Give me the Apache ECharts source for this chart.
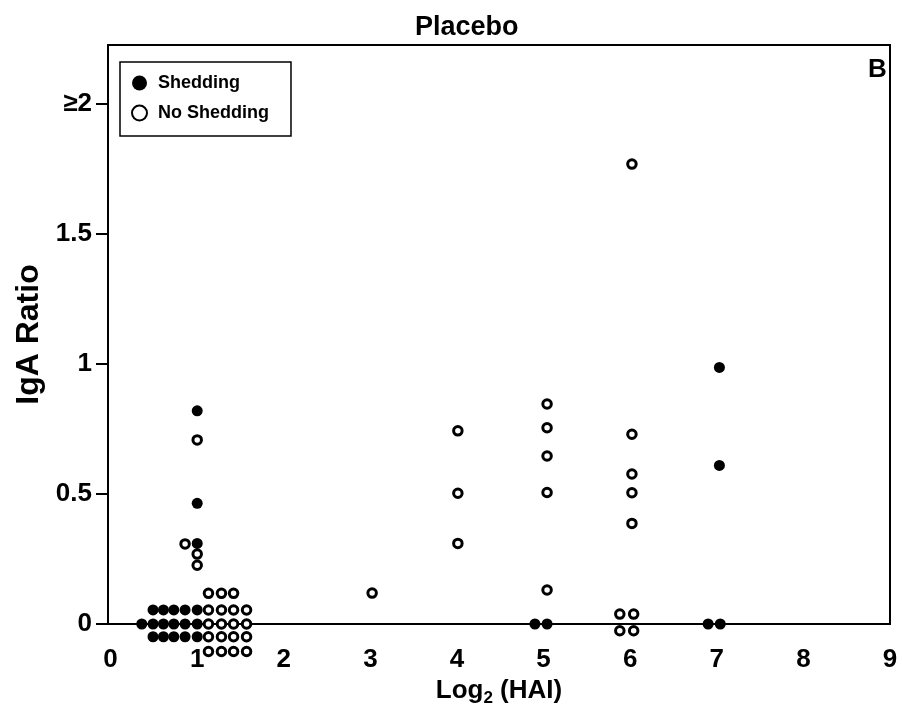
<!DOCTYPE html>
<html><head><meta charset="utf-8">
<script src="https://cdn.jsdelivr.net/npm/echarts@6/dist/echarts.min.js"></script>
<style>html,body{margin:0;padding:0;background:#fff}#c{width:902px;height:718px}</style>
</head><body><div id="c"></div>
<script>
const chartTitle = 'Placebo';
const panelLabel = 'B';
const seriesNames = ['Shedding', 'No Shedding'];
const xAxisName = 'Log2 (HAI)';
const yAxisName = 'IgA Ratio';
const xTicks = [0, 1, 2, 3, 4, 5, 6, 7, 8, 9];
const yTicks = [0, 0.5, 1, 1.5, 2];
const yTickLabels = ['0', '0.5', '1', '1.5', '≥2'];

// Shedding (filled circles) [log2 HAI, IgA ratio] (y=0 points are jittered in the original)
const sheddingPoints = [
  [1.0, 0.82], [1.0, 0.464], [1.0, 0.31],
  [0.49, 0.054], [0.61, 0.054], [0.73, 0.054], [0.86, 0.054], [1.0, 0.054],
  [0.36, 0], [0.49, 0], [0.61, 0], [0.73, 0], [0.86, 0], [1.0, 0],
  [0.49, -0.049], [0.61, -0.049], [0.73, -0.049], [0.86, -0.049], [1.0, -0.049],
  [4.9, 0], [5.04, 0],
  [6.9, 0], [7.04, 0], [7.03, 0.987], [7.03, 0.61]
];

// No Shedding (open circles)
const noSheddingPoints = [
  [1.0, 0.708], [0.86, 0.308], [1.0, 0.269], [1.0, 0.226],
  [1.13, 0.118], [1.28, 0.118], [1.42, 0.118],
  [1.13, 0.054], [1.28, 0.054], [1.42, 0.054], [1.57, 0.054],
  [1.13, 0], [1.28, 0], [1.42, 0], [1.57, 0],
  [1.13, -0.049], [1.28, -0.049], [1.42, -0.049], [1.57, -0.049],
  [1.13, -0.106], [1.28, -0.106], [1.42, -0.106], [1.57, -0.106],
  [3.02, 0.119],
  [4.01, 0.743], [4.01, 0.503], [4.01, 0.31],
  [5.04, 0.846], [5.04, 0.755], [5.04, 0.646], [5.04, 0.506], [5.04, 0.131],
  [6.02, 1.769], [6.02, 0.73], [6.02, 0.577], [6.02, 0.505], [6.02, 0.387],
  [5.88, 0.038], [6.04, 0.038], [5.88, -0.026], [6.04, -0.026]
];

const FONT = '"Liberation Sans", Arial, sans-serif';
const chart = echarts.init(document.getElementById('c'), null, {renderer: 'canvas'});
chart.setOption({
  backgroundColor: '#fff',
  animation: false,
  title: [
    {text: chartTitle, left: 410, top: 9,
     textStyle: {fontFamily: FONT, fontSize: 27, fontWeight: 'bold', color: '#000'}},
    {text: panelLabel, left: 863, top: 52,
     textStyle: {fontFamily: FONT, fontSize: 26, fontWeight: 'bold', color: '#000'}}
  ],
  legend: {
    orient: 'vertical', left: 120, top: 62,
    borderColor: '#000', borderWidth: 1.5,
    padding: [12, 22, 14, 11],
    itemWidth: 15, itemHeight: 15, itemGap: 12,
    textStyle: {fontFamily: FONT, fontSize: 18, fontWeight: 'bold', color: '#000', padding: [0, 0, 0, 6]},
    data: [
      {name: seriesNames[0], icon: 'circle', itemStyle: {color: '#000', borderWidth: 0}},
      {name: seriesNames[1], icon: 'circle', itemStyle: {color: '#fff', borderColor: '#000', borderWidth: 2}}
    ]
  },
  grid: {left: 108, right: 12, top: 45, bottom: 94, containLabel: false, outerBoundsMode: 'none',
         show: true, borderColor: '#000', borderWidth: 2, backgroundColor: 'transparent'},
  xAxis: {
    type: 'value', min: -0.03, max: 9,
    name: '{a|Log}{s|2}{a| (HAI)}', nameLocation: 'middle', nameGap: 50,
    nameTextStyle: {rich: {
      a: {fontFamily: FONT, fontSize: 26, fontWeight: 'bold', color: '#000'},
      s: {fontFamily: FONT, fontSize: 17, fontWeight: 'bold', color: '#000', padding: [14, 0, 0, 0]}
    }},
    axisLine: {show: true, onZero: false, lineStyle: {color: '#000', width: 2}},
    axisTick: {show: false},
    splitLine: {show: false},
    axisLabel: {customValues: xTicks, margin: 23, fontFamily: FONT, fontSize: 26, fontWeight: 'bold', color: '#000'}
  },
  yAxis: {
    type: 'value', min: 0, max: 2.227,
    name: yAxisName, nameLocation: 'middle', nameGap: 62, nameRotate: 90,
    nameTextStyle: {fontFamily: FONT, fontSize: 32, fontWeight: 'bold', color: '#000'},
    axisLine: {show: true, onZero: false, lineStyle: {color: '#000', width: 2}},
    axisTick: {show: true, customValues: yTicks, length: 12, lineStyle: {color: '#000', width: 2}},
    splitLine: {show: false},
    axisLabel: {customValues: yTicks, margin: 16, fontFamily: FONT, fontSize: 26, fontWeight: 'bold', color: '#000',
      formatter: function (v) { const i = yTicks.indexOf(v); return i >= 0 ? yTickLabels[i] : ''; }}
  },
  series: [
    {name: seriesNames[1], type: 'scatter', clip: false, data: noSheddingPoints, symbol: 'circle', symbolSize: 8.5,
     itemStyle: {color: '#fff', borderColor: '#000', borderWidth: 3, opacity: 1}, z: 3},
    {name: seriesNames[0], type: 'scatter', clip: false, data: sheddingPoints, symbol: 'circle', symbolSize: 11,
     itemStyle: {color: '#000', borderWidth: 0, opacity: 1}, z: 4}
  ]
});
</script>
</body></html>
